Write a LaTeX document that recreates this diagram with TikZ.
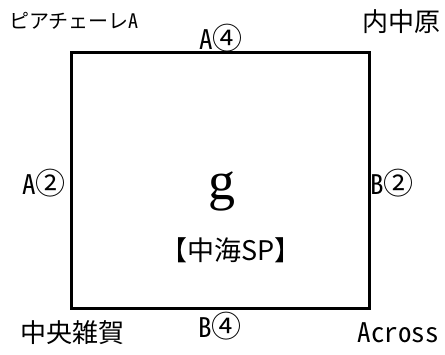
\documentclass[tikz,border=0pt]{standalone}
\usepackage{fontspec}
\newfontfamily\jpf{Noto Sans CJK JP}
\newfontfamily\jph{Noto Sans CJK JP}[RawFeature=+hwid]
\newfontfamily\serf{Liberation Serif}
\newcommand{\cd}[1]{{\jpf\fontsize{30}{30}\selectfont #1}}
\tikzset{
  lbl/.style={inner sep=0pt, font=\jph\fontsize{27}{27}\selectfont},
  jlbl/.style={inner sep=0pt, font=\jpf\fontsize{26}{26}\selectfont},
  box/.style={draw=black, line width=3pt}
}
\begin{document}
\begin{tikzpicture}[x=1pt,y=-1pt]
\useasboundingbox (0,0) rectangle (445,354);
\coordinate (tl) at (71.5,52.5);
\coordinate (br) at (369,308.5);
\draw[box] (tl) rectangle (br);
\node[inner sep=0pt, font=\jpf\fontsize{20}{20}\selectfont] (pa) at (74,21) {ピアチェーレ{\jph A}};
\node[lbl] (a4) at (221,38) {A\cd{④}};
\node[jlbl] (uchi) at (401,22) {内中原};
\node[lbl] (a2) at (44,183) {A\cd{②}};
\node[lbl] (b2) at (392,183) {B\cd{②}};
\node[inner sep=0pt, font=\serf\fontsize{54}{54}\selectfont] (g) at (222,191) {g};
\node[jlbl, font=\jpf\fontsize{27}{27}\selectfont] (sp) at (231,250) {【中海SP】};
\node[lbl] (b4) at (220,326) {B\cd{④}};
\node[jlbl] (chuo) at (72,333) {中央雑賀};
\node[lbl] (acr) at (398,333) {Across};
\end{tikzpicture}
\end{document}
